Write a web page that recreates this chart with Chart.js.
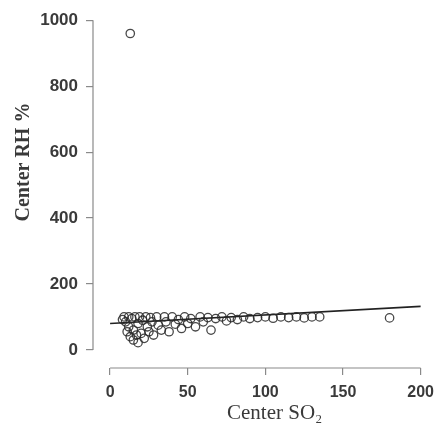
<!DOCTYPE html>
<html>
<head>
<meta charset="utf-8">
<script src="https://cdn.jsdelivr.net/npm/chart.js@4/dist/chart.umd.min.js"></script>
<style>
  html, body { margin: 0; padding: 0; background: #fff; }
  #wrap { width: 437px; height: 434px; }
</style>
</head>
<body>
<div id="wrap"><canvas id="grafico"></canvas></div>
<script>
// Mediciones: SO2 vs humedad relativa en el centro
const so2 = [8, 9, 10, 11, 12, 12, 13, 14, 15, 15, 16, 17, 18, 18, 19, 20, 21, 22, 23, 24,
  25, 26, 27, 28, 30, 31, 33, 35, 36, 38, 40, 42, 44, 46, 48, 50, 52, 55, 58, 60,
  63, 65, 68, 72, 75, 78, 82, 86, 90, 95, 100, 105, 110, 115, 120, 125, 130, 135, 180, 13];
const rh = [92, 100, 85, 55, 100, 70, 40, 95, 30, 60, 100, 45, 22, 80, 100, 50, 90, 35, 100, 70,
  55, 98, 85, 45, 100, 75, 60, 100, 85, 55, 100, 78, 92, 65, 100, 80, 95, 70, 100, 85,
  98, 60, 95, 100, 88, 98, 92, 100, 95, 98, 100, 96, 100, 98, 100, 97, 100, 100, 97, 960];

// Recta de ajuste
const ajusteX = [0, 200];
const ajusteY = [80, 132];

const ticksX = [0, 50, 100, 150, 200];
const ticksY = [0, 200, 400, 600, 800, 1000];

const tituloX = 'Center SO₂';
const tituloY = 'Center RH %';

const colorEje = '#8a8a8a';
const colorTexto = '#3a3a3a';

// Ejes al estilo R: la línea sólo cubre del primer al último tick,
// y los títulos se ubican a mano
const ejesSeparados = {
  id: 'ejesSeparados',
  afterDraw(chart) {
    const ctx = chart.ctx;
    const x = chart.scales.x;
    const y = chart.scales.y;
    ctx.save();
    ctx.strokeStyle = colorEje;
    ctx.lineWidth = 1.2;
    ctx.beginPath();
    ctx.moveTo(x.left, y.getPixelForValue(ticksY[0]));
    ctx.lineTo(x.left, y.getPixelForValue(ticksY[ticksY.length - 1]));
    ctx.moveTo(x.getPixelForValue(ticksX[0]), y.bottom);
    ctx.lineTo(x.getPixelForValue(ticksX[ticksX.length - 1]), y.bottom);
    ctx.stroke();

    ctx.fillStyle = colorTexto;
    ctx.textAlign = 'center';
    ctx.textBaseline = 'middle';
    ctx.font = '21px "Liberation Serif"';
    ctx.fillText(tituloX, x.getPixelForValue(106), 413);

    ctx.translate(24, y.getPixelForValue(570));
    ctx.rotate(-Math.PI / 2);
    ctx.font = 'bold 20px "Liberation Serif"';
    ctx.fillText(tituloY, 0, 0);
    ctx.restore();
  }
};

new Chart(document.getElementById('grafico'), {
  type: 'scatter',
  data: {
    datasets: [
      {
        data: so2.map((v, i) => ({ x: v, y: rh[i] })),
        pointRadius: 4.2,
        pointBorderWidth: 1.3,
        pointBorderColor: 'rgba(40,40,40,0.85)',
        pointBackgroundColor: 'rgba(0,0,0,0)'
      },
      {
        type: 'line',
        data: ajusteX.map((v, i) => ({ x: v, y: ajusteY[i] })),
        borderColor: '#222',
        borderWidth: 1.6,
        pointRadius: 0,
        fill: false
      }
    ]
  },
  options: {
    responsive: true,
    maintainAspectRatio: false,
    animation: false,
    layout: { padding: { top: 5, right: 5, left: 0, bottom: 0 } },
    plugins: {
      legend: { display: false },
      tooltip: { enabled: false }
    },
    scales: {
      x: {
        type: 'linear',
        min: -11,
        max: 207,
        afterBuildTicks: s => { s.ticks = ticksX.map(v => ({ value: v })); },
        afterFit: s => {
          s.height = 66;
          s.paddingLeft = 0;
          s.paddingRight = 0;
        },
        border: { display: false },
        grid: { drawOnChartArea: false, tickLength: 7, color: colorEje, lineWidth: 1.2 },
        ticks: {
          padding: 8,
          color: colorTexto,
          callback: v => String(v),
          font: { family: 'Liberation Sans', size: 16, weight: 'bold' }
        }
      },
      y: {
        type: 'linear',
        min: -55,
        max: 1045,
        afterBuildTicks: s => { s.ticks = ticksY.map(v => ({ value: v })); },
        afterFit: s => {
          s.width = 93;
          s.paddingTop = 0;
          s.paddingBottom = 0;
        },
        border: { display: false },
        grid: { drawOnChartArea: false, tickLength: 7, color: colorEje, lineWidth: 1.2 },
        ticks: {
          padding: 8,
          color: colorTexto,
          callback: v => String(v),
          font: { family: 'Liberation Sans', size: 17, weight: 'bold' }
        }
      }
    }
  },
  plugins: [ejesSeparados]
});
</script>
</body>
</html>
